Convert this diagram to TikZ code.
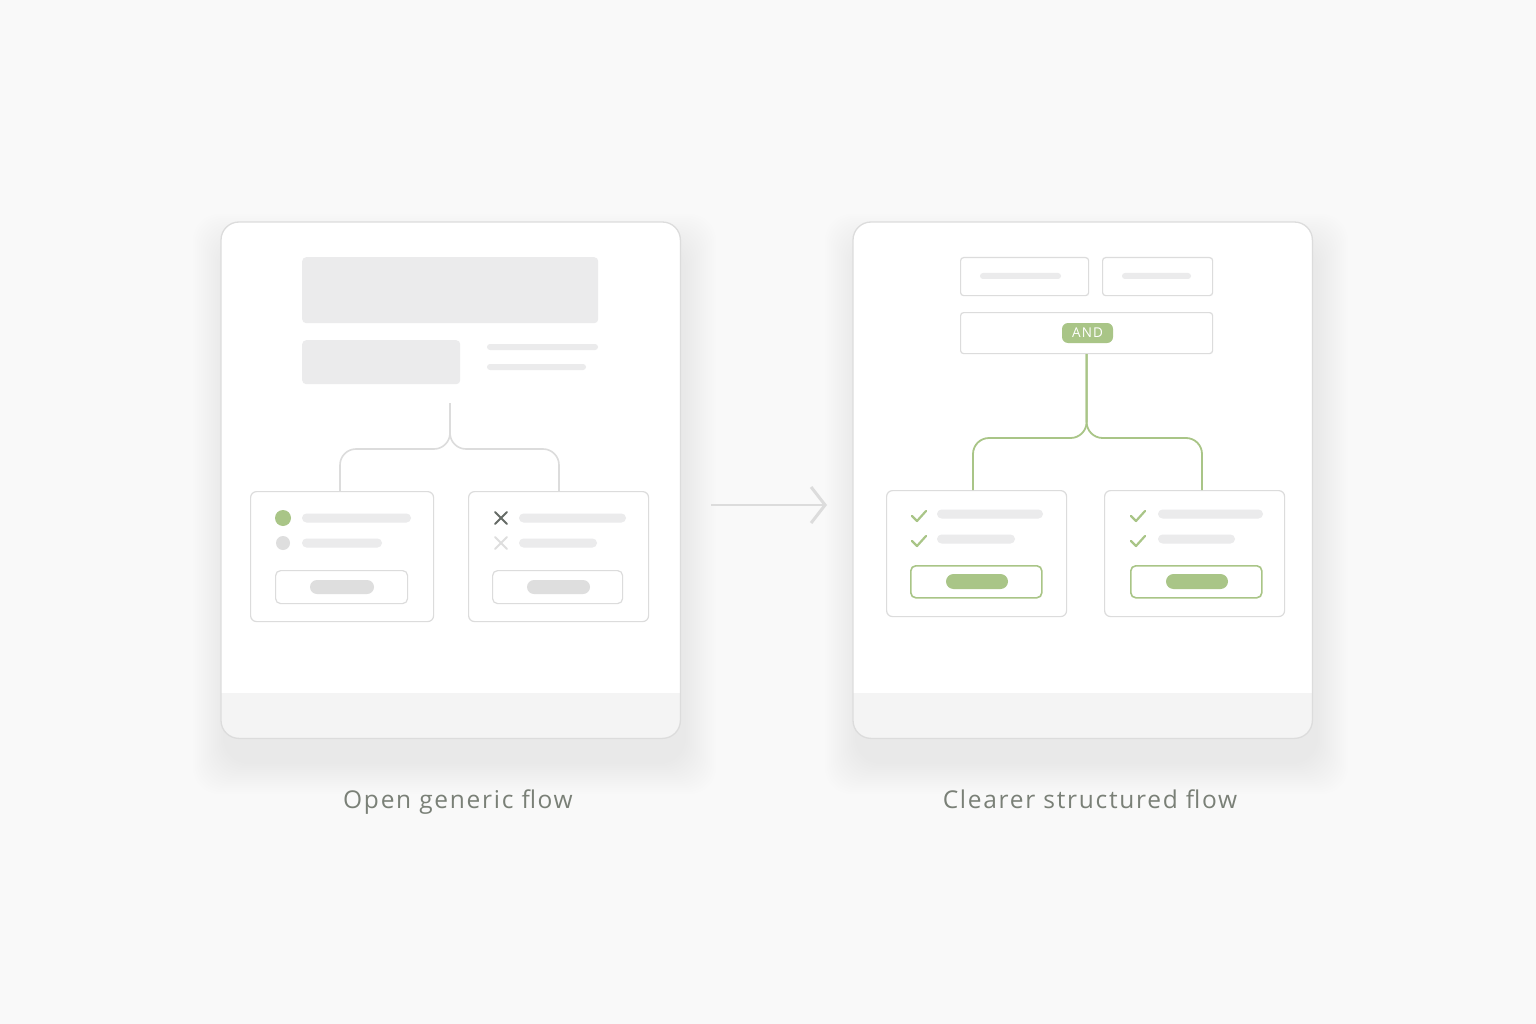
\documentclass[tikz,border=0pt]{standalone}
\usepackage{fontspec}
\setmainfont{Open Sans}
\newfontfamily\captfont[LetterSpace=7]{Open Sans}
\newfontfamily\tagfont[LetterSpace=8]{Open Sans}
\usetikzlibrary{arrows.meta, positioning}

\definecolor{bgc}{HTML}{F9F9F9}
\definecolor{edgec}{HTML}{DCDCDC}
\definecolor{barc}{HTML}{EBEBEC}
\definecolor{pillc}{HTML}{DEDEDE}
\definecolor{bandc}{HTML}{F4F4F4}
\definecolor{leafc}{HTML}{A9C587}
\definecolor{inkc}{HTML}{656B66}
\definecolor{labc}{HTML}{7A8077}

\tikzset{
  panelbox/.style={fill=white, rounded corners=18pt, anchor=north west, inner sep=0pt,
    minimum width=459pt, minimum height=516pt},
  blockbox/.style={fill=barc, rounded corners=4pt, anchor=north west, inner sep=0pt},
  cardbox/.style={draw=edgec, line width=1.2pt, fill=white, rounded corners=6pt,
    anchor=north west, inner sep=0pt, minimum width=180pt, minimum height=130pt},
  tagbox/.style={draw=edgec, line width=1.2pt, fill=white, rounded corners=3pt,
    anchor=north west, inner sep=0pt, minimum height=38pt},
  btnbox/.style={draw=edgec, line width=1.2pt, rounded corners=5pt,
    anchor=north west, inner sep=0pt, minimum width=131pt, minimum height=33pt},
  skelbar/.style={fill=barc, rounded corners=4.5pt},
  linkline/.style={draw=edgec, line width=1.6pt, rounded corners=16pt},
  leafline/.style={draw=leafc, line width=1.8pt, rounded corners=16pt},
  tick/.style={draw=leafc, line width=2.2pt, line cap=round, line join=round},
  cross/.style={line width=2pt, line cap=round},
  capt/.style={text=labc, anchor=base, font=\captfont\fontsize{24.5}{28}\selectfont}
}

\begin{document}
\begin{tikzpicture}[x=1pt,y=-1pt]
\fill[bgc] (0,0) rectangle (1536,1024);

% soft shadows under both panels
\foreach \px in {221,853} {
  \foreach \k in {1,...,16} {
    \fill[black,opacity=0.004,rounded corners=26pt]
      (\px-\k*2+4,222-\k*2+24) rectangle (\px+459+\k*2+4,738+\k*2+24);
  }
}

\node[panelbox] (lpanel) at (221,222) {};
\node[panelbox] (rpanel) at (853,222) {};
\foreach \p in {lpanel,rpanel} {
  \begin{scope}
    \clip[rounded corners=18pt] (\p.north west) rectangle (\p.south east);
    \fill[bandc] (\p.south west) rectangle ([yshift=45pt]\p.south east);
  \end{scope}
  \draw[edgec, line width=1.3pt, rounded corners=18pt] (\p.north west) rectangle (\p.south east);
}

% left panel: open generic flow
\node[blockbox, minimum width=296pt, minimum height=66pt] (lhero) at (302,257) {};
\node[blockbox, minimum width=158pt, minimum height=44pt] (lthumb) at (302,340) {};
\fill[skelbar, rounded corners=3pt] (487,344) rectangle (598,350);
\fill[skelbar, rounded corners=3pt] (487,364) rectangle (586,370);

\node[cardbox, minimum width=183pt] (lcardA) at (250,491) {};
\node[cardbox] (lcardB) at (468,491) {};

\coordinate (lstem) at (450,403);
\coordinate (ldropA) at (340,449);
\coordinate (ldropB) at (559,449);
\draw[linkline] (lstem) |- (ldropA) -- (ldropA |- lcardA.north);
\draw[linkline] (lstem) |- (ldropB) -- (ldropB |- lcardB.north);

\fill[leafc] (283,518) circle (8pt);
\fill[pillc] (283,543) circle (7pt);
\fill[skelbar] (302,513.5) rectangle (411,522.5);
\fill[skelbar] (302,538.5) rectangle (382,547.5);
\node[btnbox, minimum width=132pt] (lbtnA) at (275,570) {};
\fill[pillc, rounded corners=7pt] (310,580) rectangle (374,594);

\draw[cross, inkc] (495,512) -- (507,524) (507,512) -- (495,524);
\draw[cross, pillc] (495,537) -- (507,549) (507,537) -- (495,549);
\fill[skelbar] (519,513.5) rectangle (626,522.5);
\fill[skelbar] (519,538.5) rectangle (597,547.5);
\node[btnbox, minimum width=130pt] (lbtnB) at (492,570) {};
\fill[pillc, rounded corners=7pt] (527,580) rectangle (590,594);

% arrow between the panels
\coordinate (arrS) at (711,505);
\coordinate (arrE) at (827,505);
\draw[draw=edgec, line width=2.8pt, -{Straight Barb[length=14pt,width=36pt,line width=3pt]}] (arrS) -- (arrE);

% right panel: clearer structured flow
\node[tagbox, minimum width=128pt] (rtagA) at (960,257) {};
\node[tagbox, minimum width=110pt] (rtagB) at (1102,257) {};
\fill[skelbar, rounded corners=3pt] (980,273) rectangle (1061,279);
\fill[skelbar, rounded corners=3pt] (1122,273) rectangle (1191,279);
\node[tagbox, minimum width=252pt, minimum height=41pt] (randbox) at (960,312) {};
\node[fill=leafc, text=white, rounded corners=6pt, minimum width=51pt, minimum height=20pt,
  inner sep=0pt, font=\tagfont\fontsize{13.5}{13.5}\selectfont] (andtag) at (1087.5,333) {AND};

\node[cardbox, minimum height=126pt] (rcardA) at (886,490) {};
\node[cardbox, minimum height=126pt] (rcardB) at (1104,490) {};

\coordinate (rdropA) at (973,438);
\coordinate (rdropB) at (1202,438);
\draw[leafline] (randbox.south) |- (rdropA) -- (rdropA |- rcardA.north);
\draw[leafline] (randbox.south) |- (rdropB) -- (rdropB |- rcardB.north);

\foreach \cx/\bx in {912/937,1131/1158} {
  \draw[tick] (\cx,516) -- (\cx+5,521) -- (\cx+14,511);
  \draw[tick] (\cx,541) -- (\cx+5,546) -- (\cx+14,536);
}
\fill[skelbar] (937,509.5) rectangle (1043,518.5);
\fill[skelbar] (937,534.5) rectangle (1015,543.5);
\fill[skelbar] (1158,509.5) rectangle (1263,518.5);
\fill[skelbar] (1158,534.5) rectangle (1235,543.5);

\node[btnbox, draw=leafc, line width=1.6pt, minimum height=32pt] (rbtnA) at (910,565) {};
\node[btnbox, draw=leafc, line width=1.6pt, minimum height=32pt] (rbtnB) at (1130,565) {};
\fill[leafc, rounded corners=7.5pt] (946,574) rectangle (1008,589);
\fill[leafc, rounded corners=7.5pt] (1166,574) rectangle (1228,589);

% captions
\node[capt] (lcapt) at (458,808) {Open generic flow};
\node[capt] (rcapt) at (1090,808) {Clearer structured flow};
\end{tikzpicture}
\end{document}
